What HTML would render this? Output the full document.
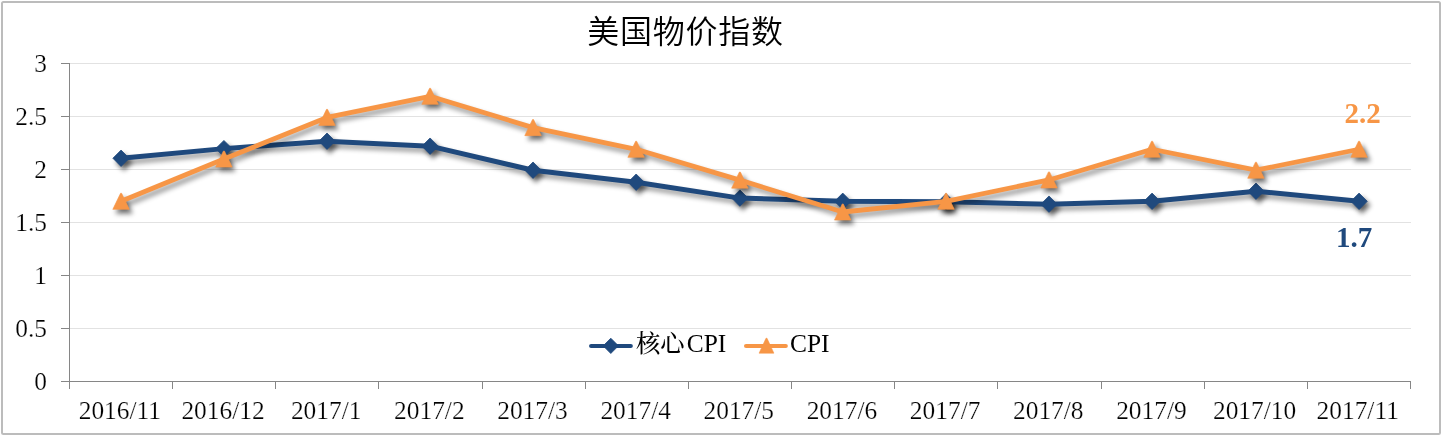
<!DOCTYPE html>
<html lang="zh-CN">
<head>
<meta charset="utf-8">
<title>美国物价指数</title>
<style>
html,body{margin:0;padding:0;background:#fff;}
body{width:1442px;height:436px;overflow:hidden;position:relative;}
svg{position:absolute;left:0;top:0;display:block;}
text{font-family:"Liberation Serif","Noto Serif CJK SC",serif;fill:#000;}
.title{font-family:"Liberation Sans","Noto Sans CJK SC",sans-serif;font-size:32px;font-weight:350;letter-spacing:0.75px;}
.ax{font-size:25.4px;stroke:#fff;stroke-width:0.22px;paint-order:fill stroke;}
.lg{font-size:25.4px;}
.lg .cj{font-size:24.3px;font-weight:500;}
.lbl{font-size:29px;font-weight:bold;}
</style>
</head>
<body>
<svg width="1442" height="436" viewBox="0 0 1442 436">
<defs>
<filter id="shl" x="-5%" y="-30%" width="110%" height="170%">
<feGaussianBlur in="SourceAlpha" stdDeviation="2.7" result="b"/>
<feOffset in="b" dx="3" dy="3.5" result="o"/>
<feComponentTransfer in="o"><feFuncA type="linear" slope="0.4"/></feComponentTransfer>
</filter>
<filter id="shm" x="-5%" y="-30%" width="110%" height="170%">
<feGaussianBlur in="SourceAlpha" stdDeviation="2.7" result="b"/>
<feOffset in="b" dx="3" dy="3.5" result="o"/>
<feComponentTransfer in="o"><feFuncA type="linear" slope="0.55"/></feComponentTransfer>
</filter>
</defs>
<rect x="0" y="0" width="1442" height="436" fill="#fff"/>
<rect x="2" y="2" width="1438" height="432" rx="1.5" fill="#fff" stroke="#bcbcbc" stroke-width="2"/>

<g stroke="#e2e2e2" stroke-width="1" shape-rendering="crispEdges">
<line x1="69.5" y1="328.5" x2="1410.5" y2="328.5"/>
<line x1="69.5" y1="275.5" x2="1410.5" y2="275.5"/>
<line x1="69.5" y1="222.5" x2="1410.5" y2="222.5"/>
<line x1="69.5" y1="169.5" x2="1410.5" y2="169.5"/>
<line x1="69.5" y1="116.5" x2="1410.5" y2="116.5"/>
<line x1="69.5" y1="63.5" x2="1410.5" y2="63.5"/>
</g>
<g stroke="#868686" stroke-width="1" shape-rendering="crispEdges" fill="none">
<line x1="69.5" y1="63.5" x2="69.5" y2="381.5"/>
<line x1="69.5" y1="381.5" x2="1410.5" y2="381.5"/>
<line x1="61" y1="381.5" x2="69.5" y2="381.5"/>
<line x1="61" y1="328.5" x2="69.5" y2="328.5"/>
<line x1="61" y1="275.5" x2="69.5" y2="275.5"/>
<line x1="61" y1="222.5" x2="69.5" y2="222.5"/>
<line x1="61" y1="169.5" x2="69.5" y2="169.5"/>
<line x1="61" y1="116.5" x2="69.5" y2="116.5"/>
<line x1="61" y1="63.5" x2="69.5" y2="63.5"/>
<line x1="69.5" y1="381.5" x2="69.5" y2="388.5"/>
<line x1="172.5" y1="381.5" x2="172.5" y2="388.5"/>
<line x1="275.5" y1="381.5" x2="275.5" y2="388.5"/>
<line x1="378.5" y1="381.5" x2="378.5" y2="388.5"/>
<line x1="482.5" y1="381.5" x2="482.5" y2="388.5"/>
<line x1="585.5" y1="381.5" x2="585.5" y2="388.5"/>
<line x1="688.5" y1="381.5" x2="688.5" y2="388.5"/>
<line x1="791.5" y1="381.5" x2="791.5" y2="388.5"/>
<line x1="894.5" y1="381.5" x2="894.5" y2="388.5"/>
<line x1="997.5" y1="381.5" x2="997.5" y2="388.5"/>
<line x1="1101.5" y1="381.5" x2="1101.5" y2="388.5"/>
<line x1="1204.5" y1="381.5" x2="1204.5" y2="388.5"/>
<line x1="1307.5" y1="381.5" x2="1307.5" y2="388.5"/>
<line x1="1410.5" y1="381.5" x2="1410.5" y2="388.5"/>
</g>
<g class="ax" text-anchor="end">
<text x="47" y="389.5">0</text>
<text x="47" y="336.5">0.5</text>
<text x="47" y="283.5">1</text>
<text x="47" y="230.5">1.5</text>
<text x="47" y="177.5">2</text>
<text x="47" y="124.5">2.5</text>
<text x="47" y="71.5">3</text>
</g>
<g class="ax" text-anchor="middle">
<text x="119.88" y="419">2016/11</text>
<text x="223.03" y="419">2016/12</text>
<text x="326.18" y="419">2017/1</text>
<text x="429.34" y="419">2017/2</text>
<text x="532.49" y="419">2017/3</text>
<text x="635.65" y="419">2017/4</text>
<text x="738.8" y="419">2017/5</text>
<text x="841.95" y="419">2017/6</text>
<text x="945.11" y="419">2017/7</text>
<text x="1048.26" y="419">2017/8</text>
<text x="1151.42" y="419">2017/9</text>
<text x="1254.57" y="419">2017/10</text>
<text x="1357.72" y="419">2017/11</text>
</g>
<text class="title" x="685.4" y="42.6" text-anchor="middle">美国物价指数</text>
<g class="series-core">
<polyline points="121.08,158.26 223.93,148.62 327.03,141.2 430.09,146.18 533.04,170.2 636.15,182.22 739.9,198.12 842.75,201.3 946.06,201.83 1049.01,204.16 1152.07,201.3 1255.97,191.23 1359.07,201.3" fill="none" stroke="#1f497d" stroke-width="5" stroke-linejoin="round" stroke-linecap="round" filter="url(#shl)"/>
<g fill="#1f497d" stroke="#1f497d" stroke-width="0.8" stroke-linejoin="round" filter="url(#shm)"><path d="M121.08 150.06L129.28 158.26L121.08 166.46L112.88 158.26Z"/><path d="M223.93 140.42L232.13 148.62L223.93 156.82L215.73 148.62Z"/><path d="M327.03 133L335.23 141.2L327.03 149.4L318.83 141.2Z"/><path d="M430.09 137.98L438.29 146.18L430.09 154.38L421.89 146.18Z"/><path d="M533.04 162L541.24 170.2L533.04 178.4L524.84 170.2Z"/><path d="M636.15 174.02L644.35 182.22L636.15 190.42L627.95 182.22Z"/><path d="M739.9 189.92L748.1 198.12L739.9 206.32L731.7 198.12Z"/><path d="M842.75 193.1L850.95 201.3L842.75 209.5L834.55 201.3Z"/><path d="M946.06 193.63L954.26 201.83L946.06 210.03L937.86 201.83Z"/><path d="M1049.01 195.96L1057.21 204.16L1049.01 212.36L1040.81 204.16Z"/><path d="M1152.07 193.1L1160.27 201.3L1152.07 209.5L1143.87 201.3Z"/><path d="M1255.97 183.03L1264.17 191.23L1255.97 199.43L1247.77 191.23Z"/><path d="M1359.07 193.1L1367.27 201.3L1359.07 209.5L1350.87 201.3Z"/></g>
<polyline points="121.08,158.26 223.93,148.62 327.03,141.2 430.09,146.18 533.04,170.2 636.15,182.22 739.9,198.12 842.75,201.3 946.06,201.83 1049.01,204.16 1152.07,201.3 1255.97,191.23 1359.07,201.3" fill="none" stroke="#1f497d" stroke-width="5" stroke-linejoin="round" stroke-linecap="round"/>
<g fill="#1f497d" stroke="#1f497d" stroke-width="0.8" stroke-linejoin="round"><path d="M121.08 150.06L129.28 158.26L121.08 166.46L112.88 158.26Z"/><path d="M223.93 140.42L232.13 148.62L223.93 156.82L215.73 148.62Z"/><path d="M327.03 133L335.23 141.2L327.03 149.4L318.83 141.2Z"/><path d="M430.09 137.98L438.29 146.18L430.09 154.38L421.89 146.18Z"/><path d="M533.04 162L541.24 170.2L533.04 178.4L524.84 170.2Z"/><path d="M636.15 174.02L644.35 182.22L636.15 190.42L627.95 182.22Z"/><path d="M739.9 189.92L748.1 198.12L739.9 206.32L731.7 198.12Z"/><path d="M842.75 193.1L850.95 201.3L842.75 209.5L834.55 201.3Z"/><path d="M946.06 193.63L954.26 201.83L946.06 210.03L937.86 201.83Z"/><path d="M1049.01 195.96L1057.21 204.16L1049.01 212.36L1040.81 204.16Z"/><path d="M1152.07 193.1L1160.27 201.3L1152.07 209.5L1143.87 201.3Z"/><path d="M1255.97 183.03L1264.17 191.23L1255.97 199.43L1247.77 191.23Z"/><path d="M1359.07 193.1L1367.27 201.3L1359.07 209.5L1350.87 201.3Z"/></g>
</g>
<g class="series-cpi">
<polyline points="121.08,201.3 223.93,159.05 327.03,117.4 430.09,96.3 533.04,127.6 636.15,149.3 739.9,180.1 842.75,212 946.06,201.3 1049.01,179.95 1152.07,149.25 1255.97,170.2 1359.07,149.25" fill="none" stroke="#f79646" stroke-width="4.8" stroke-linejoin="round" stroke-linecap="round" filter="url(#shl)"/>
<g fill="#f79646" stroke="#f79646" stroke-width="0.6" stroke-linejoin="round" filter="url(#shm)"><path d="M120.58 193.25L121.58 193.25L129.33 209.35L112.83 209.35Z"/><path d="M223.43 151L224.43 151L232.18 167.1L215.68 167.1Z"/><path d="M326.53 109.35L327.53 109.35L335.28 125.45L318.78 125.45Z"/><path d="M429.59 88.25L430.59 88.25L438.34 104.35L421.84 104.35Z"/><path d="M532.54 119.55L533.54 119.55L541.29 135.65L524.79 135.65Z"/><path d="M635.65 141.25L636.65 141.25L644.4 157.35L627.9 157.35Z"/><path d="M739.4 172.05L740.4 172.05L748.15 188.15L731.65 188.15Z"/><path d="M842.25 203.95L843.25 203.95L851 220.05L834.5 220.05Z"/><path d="M945.56 193.25L946.56 193.25L954.31 209.35L937.81 209.35Z"/><path d="M1048.51 171.9L1049.51 171.9L1057.26 188L1040.76 188Z"/><path d="M1151.57 141.2L1152.57 141.2L1160.32 157.3L1143.82 157.3Z"/><path d="M1255.47 162.15L1256.47 162.15L1264.22 178.25L1247.72 178.25Z"/><path d="M1358.57 141.2L1359.57 141.2L1367.32 157.3L1350.82 157.3Z"/></g>
<polyline points="121.08,201.3 223.93,159.05 327.03,117.4 430.09,96.3 533.04,127.6 636.15,149.3 739.9,180.1 842.75,212 946.06,201.3 1049.01,179.95 1152.07,149.25 1255.97,170.2 1359.07,149.25" fill="none" stroke="#f79646" stroke-width="4.8" stroke-linejoin="round" stroke-linecap="round"/>
<g fill="#f79646" stroke="#f79646" stroke-width="0.6" stroke-linejoin="round"><path d="M120.58 193.25L121.58 193.25L129.33 209.35L112.83 209.35Z"/><path d="M223.43 151L224.43 151L232.18 167.1L215.68 167.1Z"/><path d="M326.53 109.35L327.53 109.35L335.28 125.45L318.78 125.45Z"/><path d="M429.59 88.25L430.59 88.25L438.34 104.35L421.84 104.35Z"/><path d="M532.54 119.55L533.54 119.55L541.29 135.65L524.79 135.65Z"/><path d="M635.65 141.25L636.65 141.25L644.4 157.35L627.9 157.35Z"/><path d="M739.4 172.05L740.4 172.05L748.15 188.15L731.65 188.15Z"/><path d="M842.25 203.95L843.25 203.95L851 220.05L834.5 220.05Z"/><path d="M945.56 193.25L946.56 193.25L954.31 209.35L937.81 209.35Z"/><path d="M1048.51 171.9L1049.51 171.9L1057.26 188L1040.76 188Z"/><path d="M1151.57 141.2L1152.57 141.2L1160.32 157.3L1143.82 157.3Z"/><path d="M1255.47 162.15L1256.47 162.15L1264.22 178.25L1247.72 178.25Z"/><path d="M1358.57 141.2L1359.57 141.2L1367.32 157.3L1350.82 157.3Z"/></g>
</g>
<text class="lbl" x="1362.5" y="123" text-anchor="middle" style="fill:#f79646">2.2</text>
<text class="lbl" x="1354" y="247" text-anchor="middle" style="fill:#1f497d">1.7</text>
<g class="legend">
<line x1="591.1" y1="346" x2="630.8" y2="346" stroke="#1f497d" stroke-width="4.15" stroke-linecap="round"/>
<g fill="#1f497d" stroke="#1f497d" stroke-width="0.8" stroke-linejoin="round"><path d="M610.8 338.2L618.45 345.85L610.8 353.5L603.15 345.85Z"/></g>
<text class="lg" x="636" y="352"><tspan class="cj">核心</tspan><tspan x="686.8">CPI</tspan></text>
<line x1="746.05" y1="346" x2="785.8" y2="346" stroke="#f79646" stroke-width="4.15" stroke-linecap="round"/>
<g fill="#f79646" stroke="#f79646" stroke-width="0.6" stroke-linejoin="round"><path d="M766 338.25L767 338.25L773.9 353.15L759.1 353.15Z"/></g>
<text class="lg" x="790" y="352">CPI</text>
</g>
</svg>
</body>
</html>
